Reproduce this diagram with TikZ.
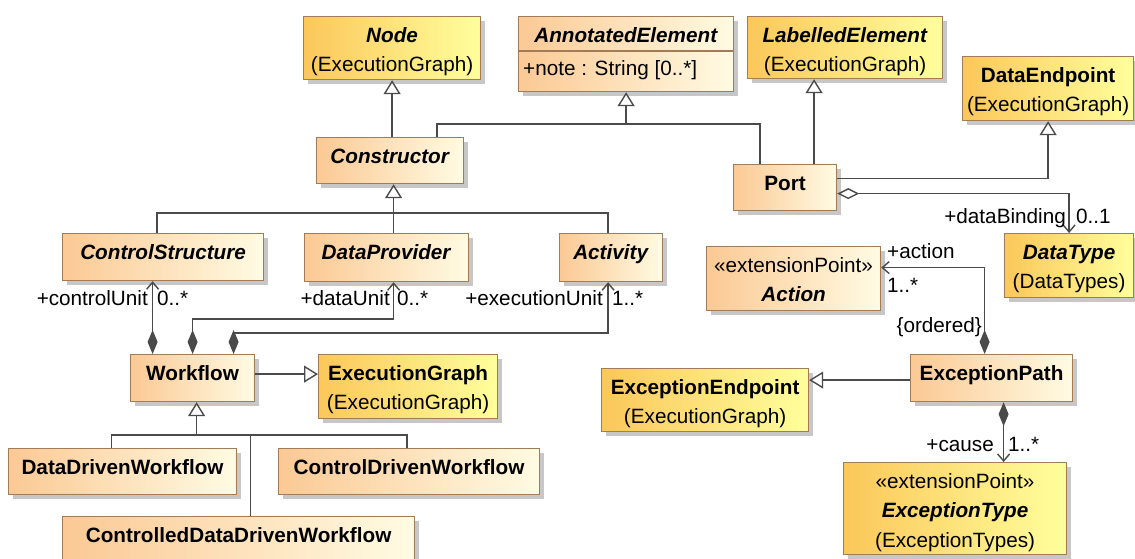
\documentclass[tikz,border=0pt]{standalone}
\usepackage{fontspec}
\setmainfont{Liberation Sans}
\usetikzlibrary{arrows.meta}
\usetikzlibrary{shadows}
\definecolor{peachL}{HTML}{FBC994}
\definecolor{peachR}{HTML}{FFFBE3}
\definecolor{goldL}{HTML}{FBC75A}
\definecolor{goldR}{HTML}{FFFF9C}
\definecolor{boxedge}{HTML}{A27B57}
\definecolor{wire}{HTML}{4A4A4A}

\begin{document}
\begin{tikzpicture}[x=1pt,y=-1pt,
        font=\fontsize{20.7}{29.5}\selectfont,
        cls/.style={draw=boxedge,line width=1.2pt,anchor=north west,align=center,
          inner xsep=0pt,inner ysep=0pt,text height=25.5pt,
          drop shadow={shadow xshift=4pt,shadow yshift=-4pt,fill=black,opacity=0.22}},
        own/.style={cls,left color=peachL,right color=peachR},
        lib/.style={cls,left color=goldL,right color=goldR},
        twolines/.style={text height=55pt},
        threelines/.style={text height=84.5pt},
        line/.style={draw=wire,line width=1.4pt},
        gen/.style={line,-{Triangle[width=17pt,length=14pt,fill=white]}},
        comp/.style={line,{Diamond[width=10pt,length=24pt]}-{Straight Barb[length=7pt,width=12pt]}},
        aggr/.style={line,{Diamond[open,width=11pt,length=22pt,fill=white]}-{Straight Barb[length=7pt,width=12pt]}},
        role/.style={inner sep=0pt,text height=15pt,text depth=0pt}]
        \useasboundingbox[fill=white] (0,0) rectangle (1135,559);
        % classes
        \node[lib,twolines,minimum width=177pt,minimum height=63pt,text depth=8pt] (nodecls) at (303,16) {\textbf{\textit{Node}}\\(ExecutionGraph)};
        \node[own,minimum width=215pt,minimum height=75pt,text depth=49.5pt] (annot) at (518,16) {\textbf{\textit{AnnotatedElement}}};
        \draw[draw=boxedge,line width=1.2pt] (annot.west |- 0,51) -- (annot.east |- 0,51);
        \node[role,anchor=west] (annot-attr) at (523,68) {+note : String [0..*]};
        \node[lib,twolines,minimum width=195pt,minimum height=62pt,text depth=7pt] (labelled) at (747,16) {\textbf{\textit{LabelledElement}}\\(ExecutionGraph)};
        \node[lib,twolines,minimum width=171pt,minimum height=64pt,text depth=9pt] (dataend) at (962,56) {\textbf{DataEndpoint}\\(ExecutionGraph)};
        \node[own,minimum width=147pt,minimum height=46pt,text depth=20.5pt] (constr) at (316,137) {\textbf{\textit{Constructor}}};
        \node[own,minimum width=103pt,minimum height=46pt,text depth=20.5pt] (port) at (733,164) {\textbf{Port}};
        \node[own,minimum width=201pt,minimum height=47pt,text depth=21.5pt] (ctrlstruct) at (62,233) {\textbf{\textit{ControlStructure}}};
        \node[own,minimum width=164pt,minimum height=48pt,text depth=22.5pt] (dataprov) at (304,233) {\textbf{\textit{DataProvider}}};
        \node[own,minimum width=103pt,minimum height=48pt,text depth=22.5pt] (activity) at (559,233) {\textbf{\textit{Activity}}};
        \node[lib,twolines,minimum width=129pt,minimum height=64pt,text depth=9pt] (datatype) at (1004,233) {\textbf{\textit{DataType}}\\(DataTypes)};
        \node[own,twolines,minimum width=174pt,minimum height=64pt,text depth=9pt] (action) at (706,246) {«extensionPoint»\\\textbf{\textit{Action}}};
        \node[own,minimum width=124pt,minimum height=47pt,text depth=21.5pt] (workflow) at (130,354) {\textbf{Workflow}};
        \node[lib,twolines,minimum width=179pt,minimum height=64pt,text depth=9pt] (execgraph) at (318,354) {\textbf{ExecutionGraph}\\(ExecutionGraph)};
        \node[lib,twolines,minimum width=207pt,minimum height=63pt,text depth=8pt] (excend) at (601,368) {\textbf{ExceptionEndpoint}\\(ExecutionGraph)};
        \node[own,minimum width=162pt,minimum height=47pt,text depth=21.5pt] (excpath) at (910,354) {\textbf{ExceptionPath}};
        \node[lib,threelines,minimum width=223pt,minimum height=92pt,text depth=7.5pt] (exctype) at (843,462) {«extensionPoint»\\\textbf{\textit{ExceptionType}}\\(ExceptionTypes)};
        \node[own,minimum width=228pt,minimum height=46pt,text depth=20.5pt] (ddw) at (8,448) {\textbf{DataDrivenWorkflow}};
        \node[own,minimum width=261pt,minimum height=46pt,text depth=20.5pt] (cdw) at (278,448) {\textbf{ControlDrivenWorkflow}};
        \node[own,minimum width=352pt,minimum height=60pt,text depth=34.5pt] (cddw) at (62,516) {\textbf{ControlledDataDrivenWorkflow}};
        % generalizations
        \draw[gen] (constr.north -| nodecls.south) -- (nodecls.south);
        \draw[line] ([xshift=-25]port.north) |- (annot.south |- 0,124);
        \draw[gen] ([xshift=47]constr.north) |- (annot.south |- 0,124) -- (annot.south);
        \draw[gen] ([xshift=29]port.north) -- ([xshift=29]port.north |- labelled.south);
        \draw[gen] ([yshift=9]port.east) -| (dataend.south);
        \draw[line] ([xshift=-6]ctrlstruct.north) |- ([xshift=-3]activity.north |- 0,213) -- ([xshift=-3]activity.north);
        \draw[gen] ([xshift=7]dataprov.north) -- ([xshift=7]dataprov.north |- constr.south);
        \draw[gen] ([yshift=4]workflow.east) -- ([yshift=4]workflow.east -| execgraph.west);
        \draw[line] ([xshift=-11]ddw.north) |- ([xshift=-2]cdw.north |- 0,435) -- ([xshift=-2]cdw.north);
        \draw[line] ([xshift=12]cddw.north) -- ([xshift=12]cddw.north |- 0,435);
        \draw[gen] ([xshift=4]workflow.south |- 0,435) -- ([xshift=4]workflow.south);
        \draw[gen] ([yshift=-2]excpath.west) -- ([yshift=-2]excpath.west -| excend.east);
        % associations
        \draw[aggr] ([yshift=-6]port.east) -| (datatype.north);
        \node[role,anchor=east] (bind-role) at (1066,216) {+dataBinding};
        \node[role,anchor=west] (bind-mult) at (1076,216) {0..1};
        \draw[comp] ([xshift=-40]workflow.north) -- ([xshift=-40]workflow.north |- ctrlstruct.south);
        \draw[comp] (workflow.north) |- ([xshift=7]dataprov.south |- 0,319) -- ([xshift=7]dataprov.south);
        \draw[comp] ([xshift=41]workflow.north) |- ([xshift=-3]activity.south |- 0,333) -- ([xshift=-3]activity.south);
        \node[role,anchor=east] (cu-role) at (148,298) {+controlUnit};
        \node[role,anchor=west] (cu-mult) at (157,298) {0..*};
        \node[role,anchor=east] (du-role) at (390,298) {+dataUnit};
        \node[role,anchor=west] (du-mult) at (397,298) {0..*};
        \node[role,anchor=east] (eu-role) at (603,298) {+executionUnit};
        \node[role,anchor=west] (eu-mult) at (612,298) {1..*};
        \draw[comp] ([xshift=-7]excpath.north) |- ([yshift=11]action.east);
        \node[role,anchor=west] (act-role) at (887,251) {+action};
        \node[role,anchor=west] (act-mult) at (887,285) {1..*};
        \node[role,anchor=east] (act-order) at (982,325) {\{ordered\}};
        \draw[comp] ([xshift=12]excpath.south) -- ([xshift=12]excpath.south |- exctype.north);
        \node[role,anchor=east] (cause-role) at (994,444) {+cause};
        \node[role,anchor=west] (cause-mult) at (1008,444) {1..*};
\end{tikzpicture}
\end{document}
